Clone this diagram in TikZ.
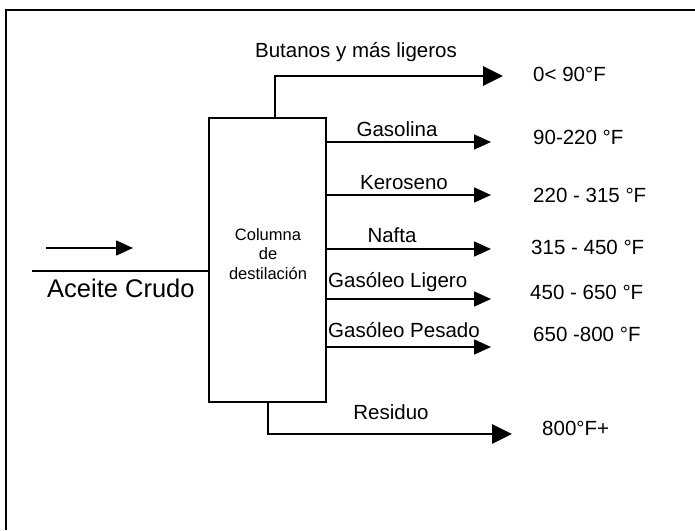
\documentclass[tikz,border=0pt]{standalone}
\usepackage{fontspec}
\setmainfont{Liberation Sans}
\usetikzlibrary{arrows.meta}
\begin{document}
\begin{tikzpicture}[x=1pt,y=-1pt,
  framelines/.style={line width=2.4pt},
  colbox/.style={draw,line width=2.4pt,minimum width=117pt,minimum height=284pt,inner sep=0pt},
  thinarrow/.style={line width=1.6pt,-{Triangle[length=17pt,width=15pt]}},
  thickarrow/.style={line width=2.8pt,-{Triangle[length=20pt,width=19pt]}},
  lbl/.style={font=\fontsize{20.5pt}{22pt}\selectfont,inner sep=0pt},
  temp/.style={font=\fontsize{20.5pt}{22pt}\selectfont,inner sep=0pt,anchor=west},
  coltext/.style={font=\fontsize{16.5pt}{19.5pt}\selectfont,align=center,inner sep=0pt}]
\useasboundingbox (0,0) rectangle (695,530);
% frame (top and left only)
\draw[framelines] (695,10) -- (6,10) -- (6,530);
% column
\node[colbox] (col) at (267.5,260) {};
\node[coltext] (coltxt) at (268,254) {Columna\\de\\destilación};
% feed
\coordinate (ia1) at (46,248);
\coordinate (ia2) at (133,248);
\draw[thinarrow] (ia1) -- (ia2);
\coordinate (il) at (32,271);
\draw[line width=1.8pt] (il) -- (col.west |- il);
\node[font=\fontsize{25.5pt}{27pt}\selectfont,inner sep=0pt,anchor=west] (crudo) at (47,288) {Aceite Crudo};
% top product
\coordinate (butx) at (275,0);
\coordinate (butEnd) at (503,76);
\draw[thickarrow] (col.north -| butx) |- (butEnd);
\node[lbl] (butlbl) at (356,52) {Butanos y más ligeros};
\node[temp] (t0) at (533,74) {0< 90°F};
% side draws
\coordinate (g1) at (491,142);
\coordinate (g2) at (491,195);
\coordinate (g3) at (491,249);
\coordinate (g4) at (491,299);
\coordinate (g5) at (491,347);
\draw[thinarrow] (col.east |- g1) -- (g1);
\draw[thinarrow] (col.east |- g2) -- (g2);
\draw[thinarrow] (col.east |- g3) -- (g3);
\draw[thinarrow] (col.east |- g4) -- (g4);
\draw[thinarrow] (col.east |- g5) -- (g5);
\node[lbl] (l1) at (397,129) {Gasolina};
\node[lbl] (l2) at (404,183) {Keroseno};
\node[lbl] (l3) at (392,235) {Nafta};
\node[lbl,anchor=west] (l4) at (328,282) {Gasóleo Ligero};
\node[lbl,anchor=west] (l5) at (328,330) {Gasóleo Pesado};
\node[temp] (t1) at (533,137) {90-220 °F};
\node[temp] (t2) at (533,195) {220 - 315 °F};
\node[temp] (t3) at (531,247) {315 - 450 °F};
\node[temp] (t4) at (530,292) {450 - 650 °F};
\node[temp] (t5) at (533,334) {650 -800 °F};
% residue
\coordinate (resx) at (268,0);
\coordinate (resEnd) at (512,434);
\draw[thickarrow] (col.south -| resx) |- (resEnd);
\node[lbl] (rlbl) at (391,412) {Residuo};
\node[temp] (t6) at (542,428) {800°F+};
\end{tikzpicture}
\end{document}
